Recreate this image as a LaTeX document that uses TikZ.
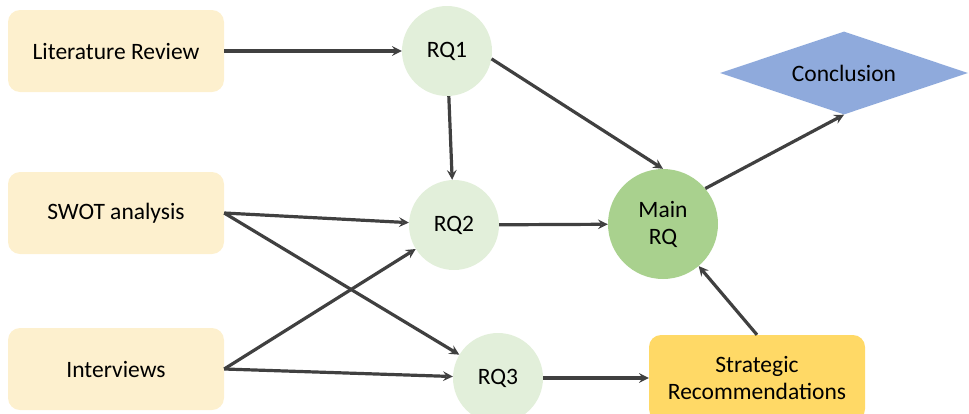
\documentclass[tikz,border=0pt]{standalone}
\usepackage{fontspec}
\setmainfont{Carlito}
\usetikzlibrary{shapes.geometric}
\definecolor{srcfill}{HTML}{FDF0CE}
\definecolor{rqfill}{HTML}{E2EFDA}
\definecolor{mainfill}{HTML}{A9D18E}
\definecolor{conclfill}{HTML}{8FAADC}
\definecolor{stratfill}{HTML}{FFD966}
\definecolor{arrowcol}{HTML}{404040}
\begin{document}
\begin{tikzpicture}[x=1pt, y=-1pt, font=\fontsize{23.5}{27}\selectfont, line join=round, >=stealth,
  srcbox/.style={rectangle, rounded corners=12pt, fill=srcfill, minimum width=216pt, minimum height=82pt},
  rqcirc/.style={circle, fill=rqfill, minimum size=90pt, inner sep=0pt},
  flow/.style={->, draw=arrowcol, line width=3.2pt}]
\useasboundingbox (0,0) rectangle (969,413);
\begin{scope}
\clip (0,0) rectangle (969,413);
% sources
\node[srcbox] (lit) at (116,51) {Literature Review};
\node[srcbox] (swot) at (116,213) {SWOT analysis};
\node[srcbox] (interv) at (116,369) {Interviews};
% research questions
\node[rqcirc] (rq1) at (447,51) {RQ1};
\node[rqcirc] (rq2) at (454,225) {RQ2};
\node[rqcirc] (rq3) at (498,378) {RQ3};
\node[circle, fill=mainfill, minimum size=110pt, inner sep=0pt, align=center] (main) at (663,224) {Main\\RQ};
\node[diamond, aspect=3, fill=conclfill, minimum width=248pt, minimum height=83pt, inner sep=0pt] (concl) at (844,73) {Conclusion};
\node[rectangle, rounded corners=12pt, fill=stratfill, minimum width=216pt, minimum height=86pt, align=center] (strat) at (757,378) {Strategic\\Recommendations};
\end{scope}
% connectors
\draw[flow] (lit) -- (rq1);
\draw[flow] (rq1) -- (rq2);
\draw[flow] (rq1.-10) -- (main.north);
\draw[flow] (swot.east) -- (rq2);
\draw[flow] (swot.east) -- (rq3);
\draw[flow] (interv.east) -- (rq2);
\draw[flow] (interv.east) -- (rq3);
\draw[flow] (rq2) -- (main);
\draw[flow] (rq3) -- (strat);
\draw[flow] (strat.north) -- (main);
\draw[flow] (main.40) -- (concl.south);
\end{tikzpicture}
\end{document}
